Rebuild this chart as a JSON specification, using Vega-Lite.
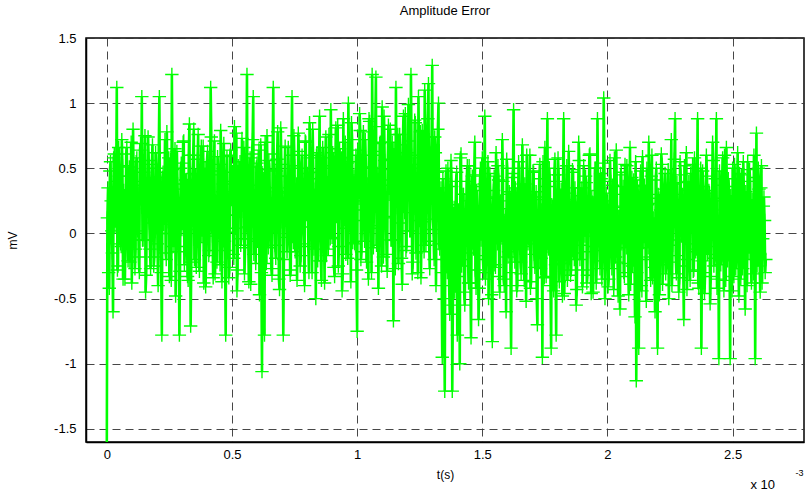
{
  "$schema": "https://vega.github.io/schema/vega-lite/v6.json",
  "width": 718,
  "height": 404,
  "autosize": "none",
  "padding": {"left": 86, "top": 38, "right": 1, "bottom": 48},
  "background": "white",
  "config": {
    "font": "Liberation Sans",
    "view": {"stroke": "black", "strokeWidth": 1.5},
    "axis": {
      "domainColor": "black", "domainWidth": 1.5, "ticks": false,
      "grid": true, "gridColor": "#333333", "gridDash": [8, 5], "gridWidth": 1, "gridOpacity": 0.9,
      "labelColor": "black", "labelFontSize": 13, "labelFont": "Liberation Sans",
      "titleColor": "black", "titleFontSize": 12, "titleFontWeight": "normal", "titleFont": "Liberation Sans"
    },
    "title": {"fontSize": 13, "fontWeight": "normal", "color": "black", "font": "Liberation Sans", "offset": 14}
  },
  "title": {"text": "Amplitude Error"},
  "resolve": {"axis": {"x": "independent", "y": "independent"}},
  "layer": [
    {
      "data": {"values": [
{"t":0.000,"v":-1.7},{"t":0.005,"v":0.35},{"t":0.010,"v":-0.42},{"t":0.015,"v":0.55},{"t":0.020,"v":0.02},{"t":0.025,"v":-0.6},{"t":0.030,"v":0.61},{"t":0.035,"v":0.18},{"t":0.040,"v":1.12},{"t":0.045,"v":-0.25},
{"t":0.050,"v":0.44},{"t":0.055,"v":-0.08},{"t":0.060,"v":0.72},{"t":0.065,"v":-0.35},{"t":0.070,"v":0.29},{"t":0.075,"v":0.05},{"t":0.080,"v":0.66},{"t":0.085,"v":-0.21},{"t":0.090,"v":0.51},{"t":0.095,"v":0.12},
{"t":0.100,"v":-0.38},{"t":0.105,"v":0.8},{"t":0.110,"v":0.22},{"t":0.115,"v":-0.12},{"t":0.120,"v":0.58},{"t":0.125,"v":0.31},{"t":0.130,"v":-0.3},{"t":0.135,"v":0.69},{"t":0.140,"v":1.05},{"t":0.145,"v":-0.05},
{"t":0.150,"v":0.4},{"t":0.155,"v":-0.45},{"t":0.160,"v":0.27},{"t":0.165,"v":0.74},{"t":0.170,"v":0.08},{"t":0.175,"v":-0.27},{"t":0.180,"v":0.53},{"t":0.185,"v":0.15},{"t":0.190,"v":-0.18},{"t":0.195,"v":0.62},
{"t":0.200,"v":0.36},{"t":0.205,"v":-0.4},{"t":0.210,"v":1.05},{"t":0.215,"v":0.0},{"t":0.220,"v":-0.78},{"t":0.225,"v":0.47},{"t":0.230,"v":0.21},{"t":0.235,"v":-0.15},{"t":0.240,"v":0.78},{"t":0.245,"v":0.09},
{"t":0.250,"v":-0.33},{"t":0.255,"v":0.57},{"t":0.260,"v":1.22},{"t":0.265,"v":-0.1},{"t":0.270,"v":0.34},{"t":0.275,"v":-0.48},{"t":0.280,"v":0.63},{"t":0.285,"v":0.19},{"t":0.290,"v":-0.78},{"t":0.295,"v":0.5},
{"t":0.300,"v":0.03},{"t":0.305,"v":0.7},{"t":0.310,"v":-0.24},{"t":0.315,"v":0.41},{"t":0.320,"v":0.11},{"t":0.325,"v":-0.36},{"t":0.330,"v":0.84},{"t":0.335,"v":-0.71},{"t":0.340,"v":0.26},{"t":0.345,"v":0.6},
{"t":0.350,"v":-0.2},{"t":0.355,"v":0.45},{"t":0.360,"v":0.07},{"t":0.365,"v":0.76},{"t":0.370,"v":-0.29},{"t":0.375,"v":0.33},{"t":0.380,"v":-0.02},{"t":0.385,"v":0.67},{"t":0.390,"v":0.16},{"t":0.395,"v":-0.41},
{"t":0.400,"v":0.55},{"t":0.405,"v":0.24},{"t":0.410,"v":-0.13},{"t":0.415,"v":1.12},{"t":0.420,"v":0.06},{"t":0.425,"v":-0.34},{"t":0.430,"v":0.71},{"t":0.435,"v":0.2},{"t":0.440,"v":-0.22},{"t":0.445,"v":0.48},
{"t":0.450,"v":0.1},{"t":0.455,"v":0.79},{"t":0.460,"v":-0.37},{"t":0.465,"v":0.38},{"t":0.470,"v":-0.06},{"t":0.475,"v":-0.78},{"t":0.480,"v":0.59},{"t":0.485,"v":0.14},{"t":0.490,"v":-0.26},{"t":0.495,"v":0.64},
{"t":0.500,"v":0.3},{"t":0.505,"v":-0.16},{"t":0.510,"v":0.82},{"t":0.515,"v":0.04},{"t":0.520,"v":-0.44},{"t":0.525,"v":0.52},{"t":0.530,"v":0.23},{"t":0.535,"v":-0.09},{"t":0.540,"v":0.73},{"t":0.545,"v":0.17},
{"t":0.550,"v":-0.31},{"t":0.555,"v":0.46},{"t":0.560,"v":1.22},{"t":0.565,"v":-0.04},{"t":0.570,"v":0.37},{"t":0.575,"v":-0.39},{"t":0.580,"v":0.61},{"t":0.585,"v":1.05},{"t":0.590,"v":0.13},{"t":0.595,"v":-0.23},
{"t":0.600,"v":0.54},{"t":0.605,"v":0.28},{"t":0.610,"v":-0.47},{"t":0.615,"v":0.68},{"t":0.620,"v":-1.06},{"t":0.625,"v":0.42},{"t":0.630,"v":-0.78},{"t":0.635,"v":0.25},{"t":0.640,"v":0.75},{"t":0.645,"v":-0.11},
{"t":0.650,"v":0.49},{"t":0.655,"v":0.01},{"t":0.660,"v":-0.32},{"t":0.665,"v":1.12},{"t":0.670,"v":0.18},{"t":0.675,"v":-0.19},{"t":0.680,"v":0.57},{"t":0.685,"v":0.32},{"t":0.690,"v":-0.43},{"t":0.695,"v":0.81},
{"t":0.700,"v":0.09},{"t":0.705,"v":-0.78},{"t":0.710,"v":0.44},{"t":0.715,"v":0.21},{"t":0.720,"v":-0.14},{"t":0.725,"v":0.66},{"t":0.730,"v":0.35},{"t":0.735,"v":-0.28},{"t":0.740,"v":1.05},{"t":0.745,"v":-0.07},
{"t":0.750,"v":0.52},{"t":0.755,"v":0.12},{"t":0.760,"v":-0.36},{"t":0.765,"v":0.77},{"t":0.770,"v":0.27},{"t":0.775,"v":-0.17},{"t":0.780,"v":0.6},{"t":0.785,"v":0.05},{"t":0.790,"v":-0.4},{"t":0.795,"v":0.7},
{"t":0.800,"v":0.39},{"t":0.805,"v":-0.1},{"t":0.810,"v":0.85},{"t":0.815,"v":0.14},{"t":0.820,"v":-0.3},{"t":0.825,"v":0.47},{"t":0.830,"v":0.22},{"t":0.835,"v":-0.5},{"t":0.840,"v":0.62},{"t":0.845,"v":0.08},
{"t":0.850,"v":0.9},{"t":0.855,"v":-0.21},{"t":0.860,"v":0.43},{"t":0.865,"v":0.17},{"t":0.870,"v":-0.38},{"t":0.875,"v":0.74},{"t":0.880,"v":0.3},{"t":0.885,"v":-0.12},{"t":0.890,"v":0.58},{"t":0.895,"v":0.95},
{"t":0.900,"v":-0.03},{"t":0.905,"v":0.5},{"t":0.910,"v":-0.33},{"t":0.915,"v":0.81},{"t":0.920,"v":0.19},{"t":0.925,"v":-0.25},{"t":0.930,"v":0.65},{"t":0.935,"v":0.36},{"t":0.940,"v":-0.44},{"t":0.945,"v":0.88},
{"t":0.950,"v":0.11},{"t":0.955,"v":-0.16},{"t":0.960,"v":0.54},{"t":0.965,"v":1.0},{"t":0.970,"v":0.06},{"t":0.975,"v":-0.37},{"t":0.980,"v":0.72},{"t":0.985,"v":0.25},{"t":0.990,"v":-0.08},{"t":0.995,"v":0.6},
{"t":1.000,"v":-0.75},{"t":1.005,"v":0.45},{"t":1.010,"v":0.92},{"t":1.015,"v":-0.2},{"t":1.020,"v":0.33},{"t":1.025,"v":0.78},{"t":1.030,"v":-0.06},{"t":1.035,"v":0.51},{"t":1.040,"v":0.15},{"t":1.045,"v":-0.35},
{"t":1.050,"v":0.86},{"t":1.055,"v":0.28},{"t":1.060,"v":1.22},{"t":1.065,"v":-0.11},{"t":1.070,"v":0.63},{"t":1.075,"v":1.2},{"t":1.080,"v":0.04},{"t":1.085,"v":-0.42},{"t":1.090,"v":0.69},{"t":1.095,"v":0.23},
{"t":1.100,"v":0.97},{"t":1.105,"v":-0.18},{"t":1.110,"v":0.56},{"t":1.115,"v":0.13},{"t":1.120,"v":-0.29},{"t":1.125,"v":0.83},{"t":1.130,"v":0.37},{"t":1.135,"v":-0.05},{"t":1.140,"v":0.7},{"t":1.145,"v":-0.67},
{"t":1.150,"v":0.48},{"t":1.155,"v":1.12},{"t":1.160,"v":0.2},{"t":1.165,"v":-0.23},{"t":1.170,"v":0.76},{"t":1.175,"v":0.31},{"t":1.180,"v":-0.39},{"t":1.185,"v":0.9},{"t":1.190,"v":0.16},{"t":1.195,"v":-0.13},
{"t":1.200,"v":0.62},{"t":1.205,"v":0.99},{"t":1.210,"v":0.02},{"t":1.215,"v":1.22},{"t":1.220,"v":-0.31},{"t":1.225,"v":0.53},{"t":1.230,"v":0.87},{"t":1.235,"v":-0.15},{"t":1.240,"v":0.41},{"t":1.245,"v":1.05},
{"t":1.250,"v":0.1},{"t":1.255,"v":-0.34},{"t":1.260,"v":0.79},{"t":1.265,"v":0.26},{"t":1.270,"v":1.1},{"t":1.275,"v":-0.09},{"t":1.280,"v":0.66},{"t":1.285,"v":1.15},{"t":1.290,"v":-0.27},{"t":1.295,"v":0.55},
{"t":1.300,"v":1.29},{"t":1.305,"v":0.03},{"t":1.310,"v":0.74},{"t":1.315,"v":-0.4},{"t":1.320,"v":0.47},{"t":1.325,"v":1.0},{"t":1.330,"v":-0.12},{"t":1.335,"v":0.35},{"t":1.340,"v":-0.95},{"t":1.345,"v":0.12},
{"t":1.350,"v":-1.21},{"t":1.355,"v":0.48},{"t":1.360,"v":-0.3},{"t":1.365,"v":0.22},{"t":1.370,"v":-0.62},{"t":1.375,"v":0.56},{"t":1.380,"v":-1.21},{"t":1.385,"v":0.05},{"t":1.390,"v":-0.45},{"t":1.395,"v":0.4},
{"t":1.400,"v":-0.78},{"t":1.405,"v":0.18},{"t":1.410,"v":-1.0},{"t":1.415,"v":0.61},{"t":1.420,"v":-0.2},{"t":1.425,"v":0.3},{"t":1.430,"v":-0.55},{"t":1.435,"v":0.09},{"t":1.440,"v":0.52},{"t":1.445,"v":-0.38},
{"t":1.450,"v":0.25},{"t":1.455,"v":-0.8},{"t":1.460,"v":0.44},{"t":1.465,"v":-0.12},{"t":1.470,"v":0.7},{"t":1.475,"v":-0.42},{"t":1.480,"v":0.15},{"t":1.485,"v":-0.66},{"t":1.490,"v":0.36},{"t":1.495,"v":-0.05},
{"t":1.500,"v":0.58},{"t":1.505,"v":-0.3},{"t":1.510,"v":0.9},{"t":1.515,"v":-0.17},{"t":1.520,"v":0.27},{"t":1.525,"v":-0.5},{"t":1.530,"v":0.46},{"t":1.535,"v":0.02},{"t":1.540,"v":-0.83},{"t":1.545,"v":0.33},
{"t":1.550,"v":-0.24},{"t":1.555,"v":0.62},{"t":1.560,"v":-0.08},{"t":1.565,"v":0.41},{"t":1.570,"v":-0.45},{"t":1.575,"v":0.19},{"t":1.580,"v":0.72},{"t":1.585,"v":-0.35},{"t":1.590,"v":0.1},{"t":1.595,"v":-0.6},
{"t":1.600,"v":0.5},{"t":1.605,"v":-0.14},{"t":1.610,"v":0.3},{"t":1.615,"v":-0.88},{"t":1.620,"v":0.43},{"t":1.625,"v":0.95},{"t":1.630,"v":-0.22},{"t":1.635,"v":0.16},{"t":1.640,"v":-0.4},{"t":1.645,"v":0.55},
{"t":1.650,"v":0.04},{"t":1.655,"v":-0.31},{"t":1.660,"v":0.68},{"t":1.665,"v":-0.1},{"t":1.670,"v":0.38},{"t":1.675,"v":-0.52},{"t":1.680,"v":0.23},{"t":1.685,"v":-0.04},{"t":1.690,"v":0.6},{"t":1.695,"v":-0.37},
{"t":1.700,"v":0.14},{"t":1.705,"v":0.47},{"t":1.710,"v":-0.26},{"t":1.715,"v":0.32},{"t":1.720,"v":-0.7},{"t":1.725,"v":0.07},{"t":1.730,"v":0.53},{"t":1.735,"v":-0.19},{"t":1.740,"v":-0.95},{"t":1.745,"v":0.28},
{"t":1.750,"v":0.66},{"t":1.755,"v":-0.33},{"t":1.760,"v":0.88},{"t":1.765,"v":-0.12},{"t":1.770,"v":0.4},{"t":1.775,"v":-0.88},{"t":1.780,"v":0.21},{"t":1.785,"v":-0.44},{"t":1.790,"v":0.57},{"t":1.795,"v":-0.78},
{"t":1.800,"v":0.11},{"t":1.805,"v":0.45},{"t":1.810,"v":-0.23},{"t":1.815,"v":0.34},{"t":1.820,"v":-0.48},{"t":1.825,"v":0.88},{"t":1.830,"v":-0.06},{"t":1.835,"v":0.26},{"t":1.840,"v":-0.36},{"t":1.845,"v":0.63},
{"t":1.850,"v":0.01},{"t":1.855,"v":-0.28},{"t":1.860,"v":0.49},{"t":1.865,"v":-0.15},{"t":1.870,"v":0.35},{"t":1.875,"v":-0.55},{"t":1.880,"v":0.18},{"t":1.885,"v":0.7},{"t":1.890,"v":-0.2},{"t":1.895,"v":0.29},
{"t":1.900,"v":-0.41},{"t":1.905,"v":0.52},{"t":1.910,"v":-0.02},{"t":1.915,"v":0.39},{"t":1.920,"v":-0.32},{"t":1.925,"v":0.15},{"t":1.930,"v":0.61},{"t":1.935,"v":-0.46},{"t":1.940,"v":0.24},{"t":1.945,"v":-0.1},
{"t":1.950,"v":0.5},{"t":1.955,"v":-0.38},{"t":1.960,"v":0.88},{"t":1.965,"v":0.06},{"t":1.970,"v":-0.27},{"t":1.975,"v":0.42},{"t":1.980,"v":-0.13},{"t":1.985,"v":1.04},{"t":1.990,"v":-0.5},{"t":1.995,"v":0.31},
{"t":2.000,"v":0.03},{"t":2.005,"v":-0.35},{"t":2.010,"v":0.56},{"t":2.015,"v":-0.08},{"t":2.020,"v":0.37},{"t":2.025,"v":-0.43},{"t":2.030,"v":0.2},{"t":2.035,"v":0.64},{"t":2.040,"v":-0.22},{"t":2.045,"v":0.13},
{"t":2.050,"v":-0.58},{"t":2.055,"v":0.47},{"t":2.060,"v":0.0},{"t":2.065,"v":-0.3},{"t":2.070,"v":0.53},{"t":2.075,"v":-0.11},{"t":2.080,"v":0.28},{"t":2.085,"v":-0.47},{"t":2.090,"v":0.66},{"t":2.095,"v":0.08},
{"t":2.100,"v":-0.25},{"t":2.105,"v":0.41},{"t":2.110,"v":-0.64},{"t":2.115,"v":-1.13},{"t":2.120,"v":0.36},{"t":2.125,"v":-0.88},{"t":2.130,"v":0.17},{"t":2.135,"v":-0.4},{"t":2.140,"v":0.59},{"t":2.145,"v":-0.07},
{"t":2.150,"v":0.32},{"t":2.155,"v":-0.52},{"t":2.160,"v":0.22},{"t":2.165,"v":0.7},{"t":2.170,"v":-0.18},{"t":2.175,"v":0.44},{"t":2.180,"v":-0.34},{"t":2.185,"v":0.12},{"t":2.190,"v":-0.6},{"t":2.195,"v":0.5},
{"t":2.200,"v":-0.88},{"t":2.205,"v":0.27},{"t":2.210,"v":-0.14},{"t":2.215,"v":0.61},{"t":2.220,"v":-0.39},{"t":2.225,"v":0.05},{"t":2.230,"v":0.46},{"t":2.235,"v":-0.24},{"t":2.240,"v":0.34},{"t":2.245,"v":-0.5},
{"t":2.250,"v":0.19},{"t":2.255,"v":0.72},{"t":2.260,"v":-0.09},{"t":2.265,"v":0.38},{"t":2.270,"v":0.88},{"t":2.275,"v":-0.31},{"t":2.280,"v":0.14},{"t":2.285,"v":-0.45},{"t":2.290,"v":0.55},{"t":2.295,"v":-0.02},
{"t":2.300,"v":0.3},{"t":2.305,"v":-0.66},{"t":2.310,"v":0.24},{"t":2.315,"v":0.62},{"t":2.320,"v":-0.2},{"t":2.325,"v":0.4},{"t":2.330,"v":-0.36},{"t":2.335,"v":0.1},{"t":2.340,"v":0.53},{"t":2.345,"v":-0.28},
{"t":2.350,"v":0.35},{"t":2.355,"v":-0.12},{"t":2.360,"v":0.88},{"t":2.365,"v":-0.42},{"t":2.370,"v":0.2},{"t":2.375,"v":-0.88},{"t":2.380,"v":0.48},{"t":2.385,"v":0.04},{"t":2.390,"v":-0.3},{"t":2.395,"v":0.6},
{"t":2.400,"v":-0.16},{"t":2.405,"v":0.33},{"t":2.410,"v":-0.54},{"t":2.415,"v":0.15},{"t":2.420,"v":0.7},{"t":2.425,"v":-0.25},{"t":2.430,"v":0.42},{"t":2.435,"v":0.88},{"t":2.440,"v":-0.35},{"t":2.445,"v":-0.96},
{"t":2.450,"v":0.27},{"t":2.455,"v":-0.1},{"t":2.460,"v":0.58},{"t":2.465,"v":-0.44},{"t":2.470,"v":0.18},{"t":2.475,"v":0.66},{"t":2.480,"v":-0.21},{"t":2.485,"v":0.36},{"t":2.490,"v":-0.96},{"t":2.495,"v":0.09},
{"t":2.500,"v":0.5},{"t":2.505,"v":-0.33},{"t":2.510,"v":0.25},{"t":2.515,"v":-0.06},{"t":2.520,"v":0.62},{"t":2.525,"v":-0.48},{"t":2.530,"v":0.14},{"t":2.535,"v":0.45},{"t":2.540,"v":-0.27},{"t":2.545,"v":0.31},
{"t":2.550,"v":-0.58},{"t":2.555,"v":0.2},{"t":2.560,"v":0.55},{"t":2.565,"v":-0.15},{"t":2.570,"v":0.4},{"t":2.575,"v":-0.38},{"t":2.580,"v":0.07},{"t":2.585,"v":0.6},{"t":2.590,"v":-0.96},{"t":2.595,"v":0.77},
{"t":2.600,"v":-0.2},{"t":2.605,"v":0.34},{"t":2.610,"v":-0.45},{"t":2.615,"v":0.52},{"t":2.620,"v":-0.04},{"t":2.625,"v":0.28},{"t":2.630,"v":-0.3},
{"t":0.0025,"v":0.12},{"t":0.0075,"v":-0.3},{"t":0.0125,"v":0.48},{"t":0.0175,"v":0.25},{"t":0.0225,"v":-0.15},{"t":0.0275,"v":0.58},{"t":0.0325,"v":0.05},{"t":0.0375,"v":0.4},{"t":0.0425,"v":-0.28},{"t":0.0475,"v":0.66},
{"t":0.0525,"v":0.2},{"t":0.0575,"v":-0.1},{"t":0.0625,"v":0.52},{"t":0.0675,"v":0.33},{"t":0.0725,"v":-0.35},{"t":0.0775,"v":0.61},{"t":0.0825,"v":0.09},{"t":0.0875,"v":0.44},{"t":0.0925,"v":-0.22},{"t":0.0975,"v":0.7},
{"t":0.1025,"v":0.15},{"t":0.1075,"v":0.37},{"t":0.1125,"v":-0.27},{"t":0.1175,"v":0.55},{"t":0.1225,"v":0.02},{"t":0.1275,"v":-0.18},{"t":0.1325,"v":0.64},{"t":0.1375,"v":0.28},{"t":0.1425,"v":-0.05},{"t":0.1475,"v":0.47},
{"t":0.1525,"v":0.75},{"t":0.1575,"v":-0.32},{"t":0.1625,"v":0.19},{"t":0.1675,"v":0.56},{"t":0.1725,"v":-0.12},{"t":0.1775,"v":0.35},{"t":0.1825,"v":0.68},{"t":0.1875,"v":-0.25},{"t":0.1925,"v":0.1},{"t":0.1975,"v":0.5},
{"t":0.2025,"v":-0.08},{"t":0.2075,"v":0.62},{"t":0.2125,"v":0.24},{"t":0.2175,"v":-0.3},{"t":0.2225,"v":0.43},{"t":0.2275,"v":0.07},{"t":0.2325,"v":0.72},{"t":0.2375,"v":-0.2},{"t":0.2425,"v":0.31},{"t":0.2475,"v":0.58},
{"t":0.2525,"v":0.0},{"t":0.2575,"v":-0.36},{"t":0.2625,"v":0.49},{"t":0.2675,"v":0.17},{"t":0.2725,"v":0.65},{"t":0.2775,"v":-0.14},{"t":0.2825,"v":0.38},{"t":0.2875,"v":0.06},{"t":0.2925,"v":-0.29},{"t":0.2975,"v":0.54},
{"t":0.3025,"v":0.27},{"t":0.3075,"v":0.71},{"t":0.3125,"v":-0.1},{"t":0.3175,"v":0.41},{"t":0.3225,"v":-0.33},{"t":0.3275,"v":0.6},{"t":0.3325,"v":0.13},{"t":0.3375,"v":-0.22},{"t":0.3425,"v":0.46},{"t":0.3475,"v":0.8},
{"t":0.3525,"v":0.03},{"t":0.3575,"v":-0.26},{"t":0.3625,"v":0.57},{"t":0.3675,"v":0.22},{"t":0.3725,"v":-0.07},{"t":0.3775,"v":0.67},{"t":0.3825,"v":0.34},{"t":0.3875,"v":-0.38},{"t":0.3925,"v":0.5},{"t":0.3975,"v":0.11},
{"t":0.4025,"v":0.63},{"t":0.4075,"v":-0.17},{"t":0.4125,"v":0.29},{"t":0.4175,"v":0.74},{"t":0.4225,"v":-0.02},{"t":0.4275,"v":0.45},{"t":0.4325,"v":-0.31},{"t":0.4375,"v":0.18},{"t":0.4425,"v":0.59},{"t":0.4475,"v":0.08},
{"t":0.4525,"v":-0.24},{"t":0.4575,"v":0.53},{"t":0.4625,"v":0.32},{"t":0.4675,"v":0.69},{"t":0.4725,"v":-0.13},{"t":0.4775,"v":0.4},{"t":0.4825,"v":0.01},{"t":0.4875,"v":-0.34},{"t":0.4925,"v":0.6},{"t":0.4975,"v":0.26},
{"t":0.5025,"v":0.47},{"t":0.5075,"v":-0.19},{"t":0.5125,"v":0.14},{"t":0.5175,"v":0.77},{"t":0.5225,"v":-0.28},{"t":0.5275,"v":0.36},{"t":0.5325,"v":0.55},{"t":0.5375,"v":-0.04},{"t":0.5425,"v":0.23},{"t":0.5475,"v":0.66},
{"t":0.5525,"v":-0.11},{"t":0.5575,"v":0.42},{"t":0.5625,"v":0.05},{"t":0.5675,"v":-0.37},{"t":0.5725,"v":0.58},{"t":0.5775,"v":0.3},{"t":0.5825,"v":0.72},{"t":0.5875,"v":-0.16},{"t":0.5925,"v":0.2},{"t":0.5975,"v":0.51},
{"t":0.6025,"v":-0.06},{"t":0.6075,"v":0.64},{"t":0.6125,"v":0.16},{"t":0.6175,"v":-0.3},{"t":0.6225,"v":0.45},{"t":0.6275,"v":0.09},{"t":0.6325,"v":0.7},{"t":0.6375,"v":-0.23},{"t":0.6425,"v":0.35},{"t":0.6475,"v":0.56},
{"t":0.6525,"v":0.02},{"t":0.6575,"v":-0.27},{"t":0.6625,"v":0.61},{"t":0.6675,"v":0.25},{"t":0.6725,"v":-0.09},{"t":0.6775,"v":0.48},{"t":0.6825,"v":0.78},{"t":0.6875,"v":-0.35},{"t":0.6925,"v":0.19},{"t":0.6975,"v":0.53},
{"t":0.7025,"v":0.12},{"t":0.7075,"v":-0.2},{"t":0.7125,"v":0.67},{"t":0.7175,"v":0.31},{"t":0.7225,"v":-0.03},{"t":0.7275,"v":0.44},{"t":0.7325,"v":-0.32},{"t":0.7375,"v":0.6},{"t":0.7425,"v":0.21},{"t":0.7475,"v":0.75},
{"t":0.7525,"v":-0.14},{"t":0.7575,"v":0.38},{"t":0.7625,"v":0.07},{"t":0.7675,"v":0.63},{"t":0.7725,"v":-0.25},{"t":0.7775,"v":0.5},{"t":0.7825,"v":0.28},{"t":0.7875,"v":-0.08},{"t":0.7925,"v":0.71},{"t":0.7975,"v":0.15},
{"t":0.8025,"v":0.46},{"t":0.8075,"v":-0.3},{"t":0.8125,"v":0.58},{"t":0.8175,"v":0.1},{"t":0.8225,"v":0.8},{"t":0.8275,"v":-0.12},{"t":0.8325,"v":0.34},{"t":0.8375,"v":0.6},{"t":0.8425,"v":-0.21},{"t":0.8475,"v":0.42},
{"t":0.8525,"v":0.24},{"t":0.8575,"v":-0.36},{"t":0.8625,"v":0.66},{"t":0.8675,"v":0.05},{"t":0.8725,"v":0.52},{"t":0.8775,"v":-0.17},{"t":0.8825,"v":0.39},{"t":0.8875,"v":0.76},{"t":0.8925,"v":-0.04},{"t":0.8975,"v":0.3},
{"t":0.9025,"v":0.62},{"t":0.9075,"v":-0.26},{"t":0.9125,"v":0.47},{"t":0.9175,"v":0.13},{"t":0.9225,"v":0.83},{"t":0.9275,"v":-0.1},{"t":0.9325,"v":0.36},{"t":0.9375,"v":0.58},{"t":0.9425,"v":-0.31},{"t":0.9475,"v":0.22},
{"t":0.9525,"v":0.7},{"t":0.9575,"v":0.04},{"t":0.9625,"v":-0.19},{"t":0.9675,"v":0.55},{"t":0.9725,"v":0.32},{"t":0.9775,"v":0.85},{"t":0.9825,"v":-0.07},{"t":0.9875,"v":0.44},{"t":0.9925,"v":0.18},{"t":0.9975,"v":-0.28},
{"t":1.0025,"v":0.64},{"t":1.0075,"v":0.27},{"t":1.0125,"v":0.79},{"t":1.0175,"v":-0.14},{"t":1.0225,"v":0.5},{"t":1.0275,"v":0.1},{"t":1.0325,"v":0.72},{"t":1.0375,"v":-0.22},{"t":1.0425,"v":0.38},{"t":1.0475,"v":0.88},
{"t":1.0525,"v":0.06},{"t":1.0575,"v":-0.3},{"t":1.0625,"v":0.6},{"t":1.0675,"v":0.33},{"t":1.0725,"v":0.82},{"t":1.0775,"v":-0.09},{"t":1.0825,"v":0.46},{"t":1.0875,"v":0.2},{"t":1.0925,"v":0.7},{"t":1.0975,"v":-0.25},
{"t":1.1025,"v":0.41},{"t":1.1075,"v":0.9},{"t":1.1125,"v":0.12},{"t":1.1175,"v":-0.16},{"t":1.1225,"v":0.57},{"t":1.1275,"v":0.3},{"t":1.1325,"v":0.8},{"t":1.1375,"v":-0.05},{"t":1.1425,"v":0.49},{"t":1.1475,"v":0.65},
{"t":1.1525,"v":-0.27},{"t":1.1575,"v":0.36},{"t":1.1625,"v":0.76},{"t":1.1675,"v":0.08},{"t":1.1725,"v":0.54},{"t":1.1775,"v":-0.19},{"t":1.1825,"v":0.68},{"t":1.1875,"v":0.25},{"t":1.1925,"v":0.92},{"t":1.1975,"v":-0.1},
{"t":1.2025,"v":0.44},{"t":1.2075,"v":0.71},{"t":1.2125,"v":0.02},{"t":1.2175,"v":0.6},{"t":1.2225,"v":-0.22},{"t":1.2275,"v":0.37},{"t":1.2325,"v":0.85},{"t":1.2375,"v":0.15},{"t":1.2425,"v":-0.3},{"t":1.2475,"v":0.58},
{"t":1.2525,"v":0.78},{"t":1.2575,"v":0.09},{"t":1.2625,"v":0.5},{"t":1.2675,"v":-0.14},{"t":1.2725,"v":0.66},{"t":1.2775,"v":0.3},{"t":1.2825,"v":0.88},{"t":1.2875,"v":-0.06},{"t":1.2925,"v":0.42},{"t":1.2975,"v":0.74},
{"t":1.3025,"v":0.11},{"t":1.3075,"v":-0.2},{"t":1.3125,"v":0.62},{"t":1.3175,"v":0.35},{"t":1.3225,"v":0.8},{"t":1.3275,"v":-0.08},{"t":1.3325,"v":0.28},
{"t":1.3375,"v":-0.3},{"t":1.3425,"v":0.42},{"t":1.3475,"v":-0.5},{"t":1.3525,"v":0.15},{"t":1.3575,"v":-0.2},{"t":1.3625,"v":0.5},{"t":1.3675,"v":-0.4},{"t":1.3725,"v":0.08},{"t":1.3775,"v":0.36},{"t":1.3825,"v":-0.55},
{"t":1.3875,"v":0.2},{"t":1.3925,"v":-0.1},{"t":1.3975,"v":0.47},{"t":1.4025,"v":-0.33},{"t":1.4075,"v":0.1},{"t":1.4125,"v":0.58},{"t":1.4175,"v":-0.25},{"t":1.4225,"v":0.3},{"t":1.4275,"v":-0.45},{"t":1.4325,"v":0.05},
{"t":1.4375,"v":0.4},{"t":1.4425,"v":-0.15},{"t":1.4475,"v":0.52},{"t":1.4525,"v":-0.38},{"t":1.4575,"v":0.18},{"t":1.4625,"v":-0.05},{"t":1.4675,"v":0.45},{"t":1.4725,"v":-0.28},{"t":1.4775,"v":0.33},{"t":1.4825,"v":0.0},
{"t":1.4875,"v":-0.42},{"t":1.4925,"v":0.5},{"t":1.4975,"v":0.12},{"t":1.5025,"v":-0.2},{"t":1.5075,"v":0.38},{"t":1.5125,"v":-0.35},{"t":1.5175,"v":0.22},{"t":1.5225,"v":0.55},{"t":1.5275,"v":-0.1},{"t":1.5325,"v":0.28},
{"t":1.5375,"v":-0.47},{"t":1.5425,"v":0.16},{"t":1.5475,"v":0.44},{"t":1.5525,"v":-0.26},{"t":1.5575,"v":0.06},{"t":1.5625,"v":0.52},{"t":1.5675,"v":-0.33},{"t":1.5725,"v":0.25},{"t":1.5775,"v":-0.02},{"t":1.5825,"v":0.4},
{"t":1.5875,"v":-0.4},{"t":1.5925,"v":0.13},{"t":1.5975,"v":0.57},{"t":1.6025,"v":-0.18},{"t":1.6075,"v":0.32},{"t":1.6125,"v":-0.3},{"t":1.6175,"v":0.02},{"t":1.6225,"v":0.46},{"t":1.6275,"v":-0.12},{"t":1.6325,"v":0.35},
{"t":1.6375,"v":-0.44},{"t":1.6425,"v":0.2},{"t":1.6475,"v":0.5},{"t":1.6525,"v":-0.22},{"t":1.6575,"v":0.09},{"t":1.6625,"v":0.38},{"t":1.6675,"v":-0.36},{"t":1.6725,"v":0.15},{"t":1.6775,"v":0.6},{"t":1.6825,"v":-0.08},
{"t":1.6875,"v":0.3},{"t":1.6925,"v":-0.42},{"t":1.6975,"v":0.11},{"t":1.7025,"v":0.48},{"t":1.7075,"v":-0.16},{"t":1.7125,"v":0.26},{"t":1.7175,"v":-0.5},{"t":1.7225,"v":0.04},{"t":1.7275,"v":0.42},{"t":1.7325,"v":-0.27},
{"t":1.7375,"v":0.18},{"t":1.7425,"v":0.55},{"t":1.7475,"v":-0.34},{"t":1.7525,"v":0.07},{"t":1.7575,"v":0.36},{"t":1.7625,"v":-0.1},{"t":1.7675,"v":0.5},{"t":1.7725,"v":-0.4},{"t":1.7775,"v":0.22},{"t":1.7825,"v":-0.03},
{"t":1.7875,"v":0.45},{"t":1.7925,"v":-0.24},{"t":1.7975,"v":0.14},{"t":1.8025,"v":0.58},{"t":1.8075,"v":-0.37},{"t":1.8125,"v":0.27},{"t":1.8175,"v":-0.06},{"t":1.8225,"v":0.4},{"t":1.8275,"v":-0.46},{"t":1.8325,"v":0.19},
{"t":1.8375,"v":0.52},{"t":1.8425,"v":-0.15},{"t":1.8475,"v":0.31},{"t":1.8525,"v":-0.32},{"t":1.8575,"v":0.08},{"t":1.8625,"v":0.47},{"t":1.8675,"v":-0.2},{"t":1.8725,"v":0.24},{"t":1.8775,"v":-0.43},{"t":1.8825,"v":0.12},
{"t":1.8875,"v":0.56},{"t":1.8925,"v":-0.09},{"t":1.8975,"v":0.35},{"t":1.9025,"v":-0.28},{"t":1.9075,"v":0.03},{"t":1.9125,"v":0.44},{"t":1.9175,"v":-0.38},{"t":1.9225,"v":0.2},{"t":1.9275,"v":0.6},{"t":1.9325,"v":-0.14},
{"t":1.9375,"v":0.28},{"t":1.9425,"v":-0.45},{"t":1.9475,"v":0.1},{"t":1.9525,"v":0.5},{"t":1.9575,"v":-0.21},{"t":1.9625,"v":0.33},{"t":1.9675,"v":-0.04},{"t":1.9725,"v":0.46},{"t":1.9775,"v":-0.35},{"t":1.9825,"v":0.17},
{"t":1.9875,"v":0.54},{"t":1.9925,"v":-0.12},{"t":1.9975,"v":0.25},{"t":2.0025,"v":-0.41},{"t":2.0075,"v":0.06},{"t":2.0125,"v":0.4},{"t":2.0175,"v":-0.27},{"t":2.0225,"v":0.21},{"t":2.0275,"v":0.58},{"t":2.0325,"v":-0.18},
{"t":2.0375,"v":0.3},{"t":2.0425,"v":-0.48},{"t":2.0475,"v":0.13},{"t":2.0525,"v":0.45},{"t":2.0575,"v":-0.08},{"t":2.0625,"v":0.36},{"t":2.0675,"v":-0.33},{"t":2.0725,"v":0.02},{"t":2.0775,"v":0.52},{"t":2.0825,"v":-0.23},
{"t":2.0875,"v":0.19},{"t":2.0925,"v":-0.39},{"t":2.0975,"v":0.43},{"t":2.1025,"v":0.09},{"t":2.1075,"v":-0.15},{"t":2.1125,"v":0.55},{"t":2.1175,"v":-0.3},{"t":2.1225,"v":0.26},{"t":2.1275,"v":-0.06},{"t":2.1325,"v":0.48},
{"t":2.1375,"v":-0.44},{"t":2.1425,"v":0.15},{"t":2.1475,"v":0.37},{"t":2.1525,"v":-0.2},{"t":2.1575,"v":0.5},{"t":2.1625,"v":-0.11},{"t":2.1675,"v":0.23},{"t":2.1725,"v":-0.36},{"t":2.1775,"v":0.6},{"t":2.1825,"v":0.04},
{"t":2.1875,"v":-0.26},{"t":2.1925,"v":0.41},{"t":2.1975,"v":-0.02},{"t":2.2025,"v":0.3},{"t":2.2075,"v":-0.47},{"t":2.2125,"v":0.18},{"t":2.2175,"v":0.53},{"t":2.2225,"v":-0.13},{"t":2.2275,"v":0.34},{"t":2.2325,"v":-0.31},
{"t":2.2375,"v":0.07},{"t":2.2425,"v":0.49},{"t":2.2475,"v":-0.22},{"t":2.2525,"v":0.27},{"t":2.2575,"v":-0.4},{"t":2.2625,"v":0.12},{"t":2.2675,"v":0.57},{"t":2.2725,"v":-0.17},{"t":2.2775,"v":0.39},{"t":2.2825,"v":-0.05},
{"t":2.2875,"v":-0.34},{"t":2.2925,"v":0.45},{"t":2.2975,"v":0.1},{"t":2.3025,"v":-0.25},{"t":2.3075,"v":0.52},{"t":2.3125,"v":0.2},{"t":2.3175,"v":-0.43},{"t":2.3225,"v":0.33},{"t":2.3275,"v":-0.08},{"t":2.3325,"v":0.46},
{"t":2.3375,"v":0.15},{"t":2.3425,"v":-0.29},{"t":2.3475,"v":0.58},{"t":2.3525,"v":-0.14},{"t":2.3575,"v":0.28},{"t":2.3625,"v":-0.38},{"t":2.3675,"v":0.05},{"t":2.3725,"v":0.5},{"t":2.3775,"v":-0.21},{"t":2.3825,"v":0.36},
{"t":2.3875,"v":-0.46},{"t":2.3925,"v":0.22},{"t":2.3975,"v":0.44},{"t":2.4025,"v":-0.1},{"t":2.4075,"v":0.31},{"t":2.4125,"v":-0.33},{"t":2.4175,"v":0.14},{"t":2.4225,"v":0.56},{"t":2.4275,"v":-0.19},{"t":2.4325,"v":0.25},
{"t":2.4375,"v":-0.42},{"t":2.4425,"v":0.09},{"t":2.4475,"v":0.48},{"t":2.4525,"v":-0.24},{"t":2.4575,"v":0.37},{"t":2.4625,"v":-0.03},{"t":2.4675,"v":0.6},{"t":2.4725,"v":-0.36},{"t":2.4775,"v":0.17},{"t":2.4825,"v":0.42},
{"t":2.4875,"v":-0.15},{"t":2.4925,"v":0.29},{"t":2.4975,"v":-0.44},{"t":2.5025,"v":0.11},{"t":2.5075,"v":0.53},{"t":2.5125,"v":-0.27},{"t":2.5175,"v":0.2},{"t":2.5225,"v":-0.07},{"t":2.5275,"v":0.46},{"t":2.5325,"v":-0.35},
{"t":2.5375,"v":0.16},{"t":2.5425,"v":0.55},{"t":2.5475,"v":-0.2},{"t":2.5525,"v":0.32},{"t":2.5575,"v":-0.4},{"t":2.5625,"v":0.08},{"t":2.5675,"v":0.49},{"t":2.5725,"v":-0.12},{"t":2.5775,"v":0.26},{"t":2.5825,"v":-0.31},
{"t":2.5875,"v":0.43},{"t":2.5925,"v":0.02},{"t":2.5975,"v":-0.25},{"t":2.6025,"v":0.5},{"t":2.6075,"v":-0.16},{"t":2.6125,"v":0.35},{"t":2.6175,"v":-0.38},{"t":2.6225,"v":0.21},{"t":2.6275,"v":0.1},{"t":2.6325,"v":-0.2}
      ]},
      "mark": {"type": "line", "color": "#00ff00", "strokeWidth": 2.6, "clip": true,
        "point": {"shape": "M-1,0H1M0,-1V1", "filled": false, "stroke": "#00ff00", "fill": null, "strokeWidth": 1.4, "size": 180, "opacity": 1}},
      "encoding": {
        "x": {"field": "t", "type": "quantitative",
          "scale": {"domain": [-0.083, 2.785], "nice": false, "zero": false},
          "axis": {"title": "t(s)", "values": [0, 0.5, 1, 1.5, 2, 2.5], "labelExpr": "'' + datum.value", "labelPadding": 6, "titlePadding": 8}},
        "y": {"field": "v", "type": "quantitative",
          "scale": {"domain": [-1.6, 1.5], "nice": false, "zero": false},
          "axis": {"title": "mV", "values": [-1.5, -1, -0.5, 0, 0.5, 1, 1.5], "labelExpr": "'' + datum.value", "labelPadding": 10, "titlePadding": 34}}
      }
    },
    {
      "data": {"values": [{"t": 1, "v": 0}]},
      "mark": {"type": "point", "opacity": 0},
      "encoding": {
        "x": {"field": "t", "type": "quantitative",
          "axis": {"orient": "top", "title": "x  10", "labels": false, "grid": false, "domain": false, "ticks": false,
            "titleX": 664, "titleY": 450, "titleAlign": "left", "titleBaseline": "alphabetic", "titleAngle": 0, "titleFontSize": 13}},
        "y": {"field": "v", "type": "quantitative", "axis": null}
      }
    },
    {
      "data": {"values": [{"t": 1, "v": 0}]},
      "mark": {"type": "point", "opacity": 0},
      "encoding": {
        "x": {"field": "t", "type": "quantitative", "axis": null},
        "y": {"field": "v", "type": "quantitative",
          "axis": {"orient": "right", "title": "-3", "labels": false, "grid": false, "domain": false, "ticks": false,
            "titleX": -9, "titleY": 437, "titleAlign": "left", "titleBaseline": "alphabetic", "titleAngle": 0, "titleFontSize": 9}}
      }
    }
  ]
}
